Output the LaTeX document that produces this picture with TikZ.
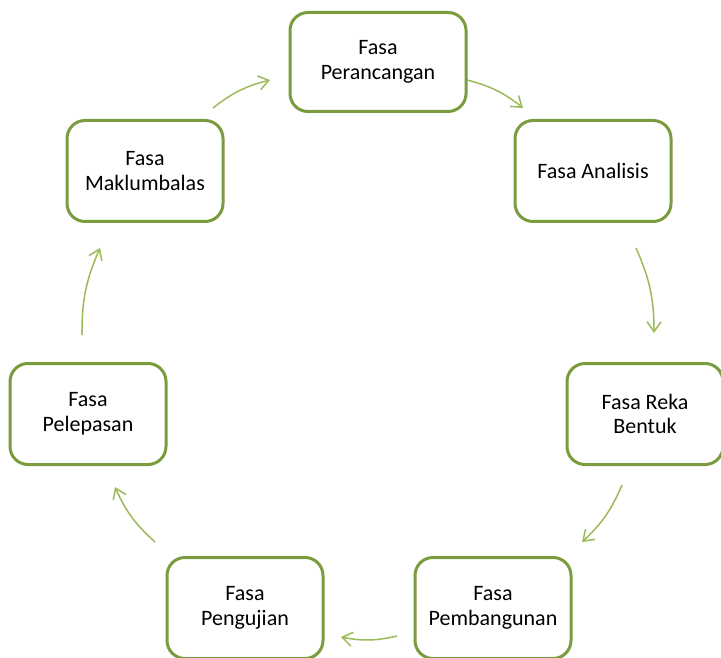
\documentclass[tikz,border=0pt,11pt]{standalone}
\usepackage{fontspec}
\setmainfont{Carlito}
\usepackage{tikz}
\usetikzlibrary{arrows.meta}
\definecolor{boxgreen}{RGB}{122,155,62}
\definecolor{arrowgreen}{RGB}{155,187,89}
\tikzset{fasa/.style={draw=boxgreen, line width=1.5pt, rounded corners=9pt, align=center, minimum width=78pt, minimum height=50.5pt, inner sep=2pt, font=\fontsize{11}{12.4}\selectfont}}
\tikzset{cyc/.style={draw=arrowgreen, line width=0.75pt, -{Straight Barb[length=5pt,width=7pt]}, bend left=12}}

\begin{document}
\begin{tikzpicture}[x=0.5pt, y=-0.5pt]
    \path[use as bounding box] (0, 0) rectangle (721, 657);

    \node[fasa, minimum width=88pt, minimum height=49.5pt] at (378, 62) (P) {Fasa\\Perancangan};
    \node[fasa] at (593, 171) (A) {Fasa Analisis};
    \node[fasa] at (645, 414) (R) {Fasa Reka\\Bentuk};
    \node[fasa] at (493, 608) (B) {Fasa\\Pembangunan};
    \node[fasa] at (245, 608) (U) {Fasa\\Pengujian};
    \node[fasa] at (88, 414) (L) {Fasa\\Pelepasan};
    \node[fasa] at (145, 171) (M) {Fasa\\Maklumbalas};

    % arrow ends, on the cycle between the boxes
    \coordinate (MPs) at (213, 108);  \coordinate (MPe) at (270, 80);
    \coordinate (PAs) at (467, 80);   \coordinate (PAe) at (523, 108);
    \coordinate (ARs) at (636, 248);  \coordinate (ARe) at (654, 333);
    \coordinate (RBs) at (622, 485);  \coordinate (RBe) at (582, 542);
    \coordinate (BUs) at (397, 636);  \coordinate (BUe) at (341, 637);
    \coordinate (ULs) at (155, 542);  \coordinate (ULe) at (115, 487);
    \coordinate (LMs) at (82, 335);   \coordinate (LMe) at (100, 248);

    \draw (MPs) edge[cyc] (MPe);
    \draw (PAs) edge[cyc] (PAe);
    \draw (ARs) edge[cyc] (ARe);
    \draw (RBs) edge[cyc] (RBe);
    \draw (BUs) edge[cyc] (BUe);
    \draw (ULs) edge[cyc] (ULe);
    \draw (LMs) edge[cyc] (LMe);
\end{tikzpicture}
\end{document}
